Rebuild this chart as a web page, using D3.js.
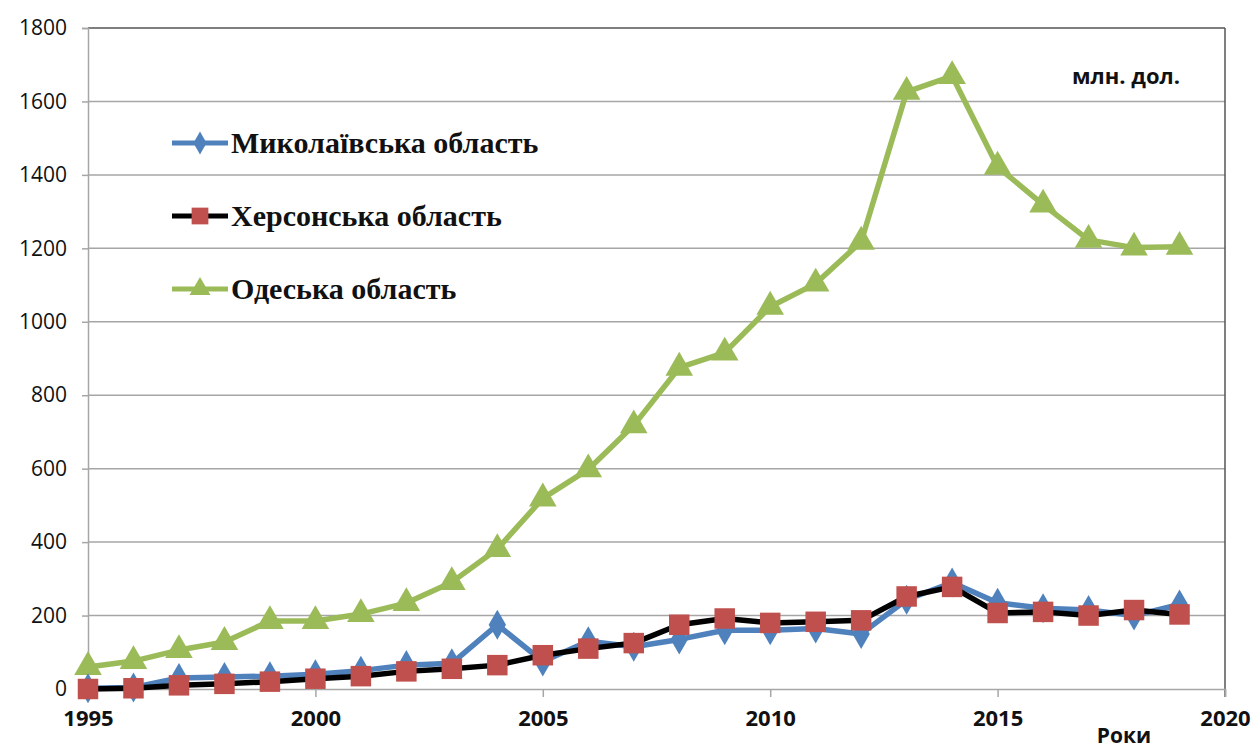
<!DOCTYPE html>
<html><head><meta charset="utf-8">
<script src="https://d3js.org/d3.v7.min.js"></script>
<style>body{margin:0;background:#fff}</style>
</head><body>
<svg id="c" width="1257" height="752"></svg>
<script>
const years = d3.range(1995, 2020);
const mykolaiv = [2,4,30,33,35,40,50,65,70,175,75,130,115,135,160,160,165,150,243,290,235,220,215,200,230];
const kherson  = [0,2,10,14,20,28,35,48,55,65,92,110,125,175,192,180,183,187,252,278,207,210,200,215,203];
const odesa    = [60,76,106,128,185,185,204,234,291,381,519,598,718,875,916,1041,1104,1218,1626,1669,1422,1319,1223,1202,1204];
const yTicks = [0,200,400,600,800,1000,1200,1400,1600,1800];
const xTicks = [1995,2000,2005,2010,2015,2020];
const seriesNames = ["Миколаївська область","Херсонська область","Одеська область"];

const svg = d3.select("#c");
const L=88, R=1225, T=28, B=689;
const x = d3.scaleLinear().domain([1995,2020]).range([L,R]);
const y = d3.scaleLinear().domain([0,1800]).range([B,T]);

svg.append("g").selectAll("line").data(yTicks.filter(d=>d>0)).join("line")
  .attr("x1",L).attr("x2",R).attr("y1",d=>y(d)).attr("y2",d=>y(d))
  .attr("stroke",d=>d===1800?"#555":"#a6a6a6").attr("stroke-width",1.5);
svg.append("line").attr("x1",R).attr("x2",R).attr("y1",T).attr("y2",B+8).attr("stroke","#555").attr("stroke-width",1.5);

const yAxis = svg.append("g").attr("transform",`translate(${L},0)`)
  .call(d3.axisLeft(y).tickValues(yTicks).tickFormat(d3.format("d")).tickSize(6).tickPadding(15));
yAxis.select(".domain").attr("stroke","#a6a6a6").attr("stroke-width",1.5);
yAxis.selectAll(".tick line").attr("stroke","#a6a6a6").attr("stroke-width",1.5);
yAxis.selectAll("text").attr("font-family","'Open Sans',sans-serif").attr("font-size",21).attr("fill","#111");

const xAxis = svg.append("g").attr("transform",`translate(0,${B})`)
  .call(d3.axisBottom(x).tickValues(xTicks).tickFormat(d3.format("d")).tickSize(8).tickPadding(13));
xAxis.select(".domain").attr("stroke","#a6a6a6").attr("stroke-width",1.5);
xAxis.selectAll(".tick line").attr("stroke","#a6a6a6").attr("stroke-width",1.5);
xAxis.selectAll("text").attr("font-family","'Open Sans',sans-serif").attr("font-size",22).attr("font-weight","bold").attr("fill","#111");

const line = d3.line().x((d,i)=>x(years[i])).y(d=>y(d));
const colors = {blue:"#4F81BD", red:"#C0504D", green:"#9BBB59"};

const tri = d3.symbol().type(d3.symbolTriangle).size(330);
const sq = d3.symbol().type(d3.symbolSquare).size(420);
const dia = d3.symbol().type(d3.symbolDiamond).size(260);

function drawSeries(data, lineColor, markerColor, sym){
  svg.append("path").datum(data).attr("d",line).attr("fill","none")
    .attr("stroke",lineColor).attr("stroke-width",5.5).attr("stroke-linejoin","round");
  svg.append("g").selectAll("path").data(data).join("path")
    .attr("d",sym).attr("transform",(d,i)=>`translate(${x(years[i])},${y(d)})`)
    .attr("fill",markerColor);
}
drawSeries(odesa, colors.green, colors.green, tri);
drawSeries(mykolaiv, colors.blue, colors.blue, dia);
drawSeries(kherson, "#000", colors.red, sq);

const leg = [
  {name:seriesNames[0], lc:colors.blue, mc:colors.blue, sym:d3.symbol().type(d3.symbolDiamond).size(150), y:143},
  {name:seriesNames[1], lc:"#000", mc:colors.red, sym:d3.symbol().type(d3.symbolSquare).size(280), y:216},
  {name:seriesNames[2], lc:colors.green, mc:colors.green, sym:d3.symbol().type(d3.symbolTriangle).size(190), y:289}
];
const lg = svg.append("g");
leg.forEach(e=>{
  lg.append("line").attr("x1",172).attr("x2",228).attr("y1",e.y).attr("y2",e.y).attr("stroke",e.lc).attr("stroke-width",5);
  lg.append("path").attr("d",e.sym).attr("transform",`translate(200,${e.y})`).attr("fill",e.mc);
  lg.append("text").attr("x",231).attr("y",e.y+10).text(e.name)
    .attr("font-family","'Liberation Serif','Times New Roman',serif").attr("font-weight","bold").attr("font-size",30).attr("fill","#111");
});

svg.append("text").attr("x",1180).attr("y",84).attr("text-anchor","end").text("млн. дол.")
  .attr("font-family","'Open Sans',sans-serif").attr("font-weight","bold").attr("font-size",22).attr("fill","#111");
svg.append("text").attr("x",1124).attr("y",743).attr("text-anchor","middle").text("Роки")
  .attr("font-family","'Open Sans',sans-serif").attr("font-weight","bold").attr("font-size",21).attr("fill","#111");
</script>
</body></html>
